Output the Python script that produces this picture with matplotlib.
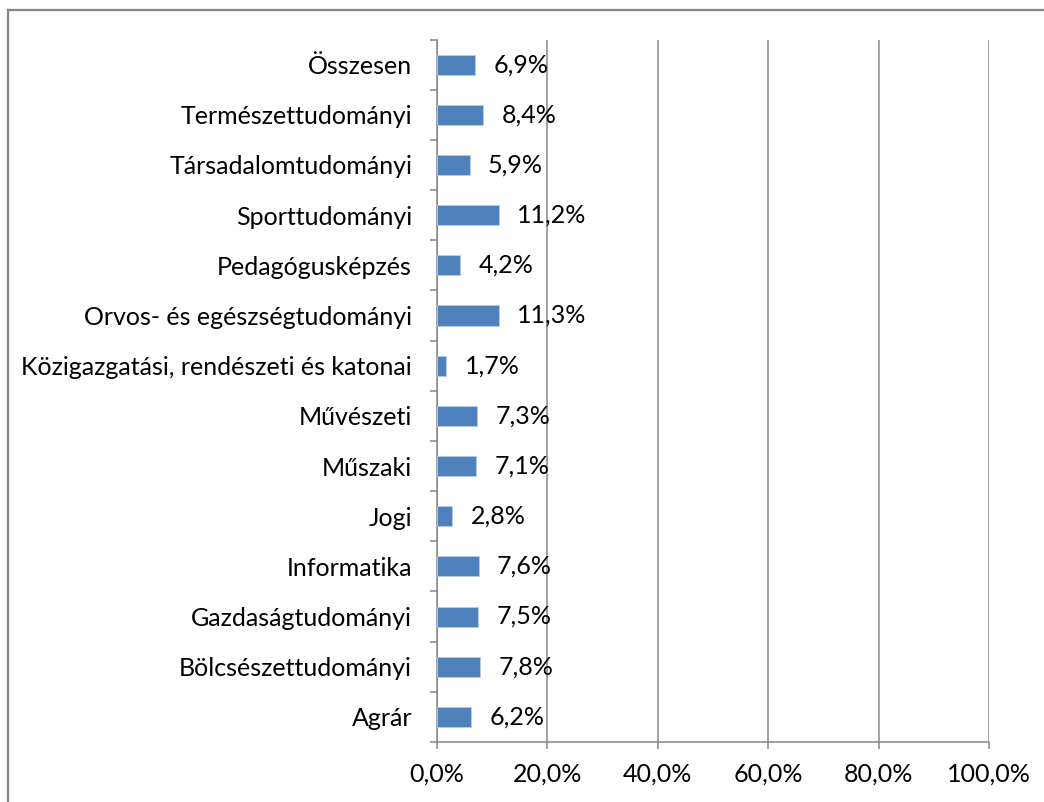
import matplotlib.pyplot as plt
from matplotlib.lines import Line2D
from matplotlib.ticker import FixedLocator

plt.rcParams['font.family'] = ['Lato', 'DejaVu Sans']

categories = [
    'Agrár',
    'Bölcsészettudományi',
    'Gazdaságtudományi',
    'Informatika',
    'Jogi',
    'Műszaki',
    'Művészeti',
    'Közigazgatási, rendészeti és katonai',
    'Orvos- és egészségtudományi',
    'Pedagógusképzés',
    'Sporttudományi',
    'Társadalomtudományi',
    'Természettudományi',
    'Összesen',
]
values = [6.2, 7.8, 7.5, 7.6, 2.8, 7.1, 7.3, 1.7, 11.3, 4.2, 11.2, 5.9, 8.4, 6.9]
x_ticks = [0, 20, 40, 60, 80, 100]

grid_color = '#868686'
bar_color = '#4F81BD'
font_size = 18

fig = plt.figure(figsize=(10.44, 8.02), dpi=100)
ax = fig.add_axes([0.4186, 0.0748, 0.5287, 0.8759])

ypos = list(range(len(categories)))
ax.barh(ypos, values, height=0.4, color=bar_color, edgecolor='#B9CDE5',
        linewidth=0.6, zorder=3)

for y, v in zip(ypos, values):
    ax.annotate(f'{v:.1f}%'.replace('.', ','), (v, y), xytext=(13, 0),
                textcoords='offset points', va='center', ha='left',
                fontsize=font_size, zorder=4)

ax.set_xlim(0, 100)
ax.set_ylim(-0.5, len(categories) - 0.5)
ax.set_xticks(x_ticks)
ax.set_xticklabels([f'{t:.1f}%'.replace('.', ',') for t in x_ticks],
                   fontsize=font_size)
ax.set_yticks(ypos)
ax.set_yticklabels(categories, fontsize=font_size)

# category boundary ticks on the value axis, labels sit between them
ax.yaxis.set_minor_locator(FixedLocator([i - 0.5 for i in range(len(categories) + 1)]))
ax.tick_params(axis='y', which='major', length=0, pad=18)
ax.tick_params(axis='y', which='minor', length=5, width=1.1, color=grid_color)
ax.tick_params(axis='x', which='major', length=5, width=1.1, color=grid_color,
               pad=10)

ax.grid(axis='x', color=grid_color, linewidth=1.1, zorder=0)
for side in ('top', 'right'):
    ax.spines[side].set_visible(False)
for side in ('left', 'bottom'):
    ax.spines[side].set_color(grid_color)
    ax.spines[side].set_linewidth(1.1)

# outer chart frame
fig.add_artist(Line2D([8 / 1044, 8 / 1044], [0, 1 - 10 / 802],
                      transform=fig.transFigure, color=grid_color, linewidth=1.6))
fig.add_artist(Line2D([8 / 1044, 1], [1 - 10 / 802, 1 - 10 / 802],
                      transform=fig.transFigure, color=grid_color, linewidth=1.6))

fig.savefig('out.png', dpi=100)
